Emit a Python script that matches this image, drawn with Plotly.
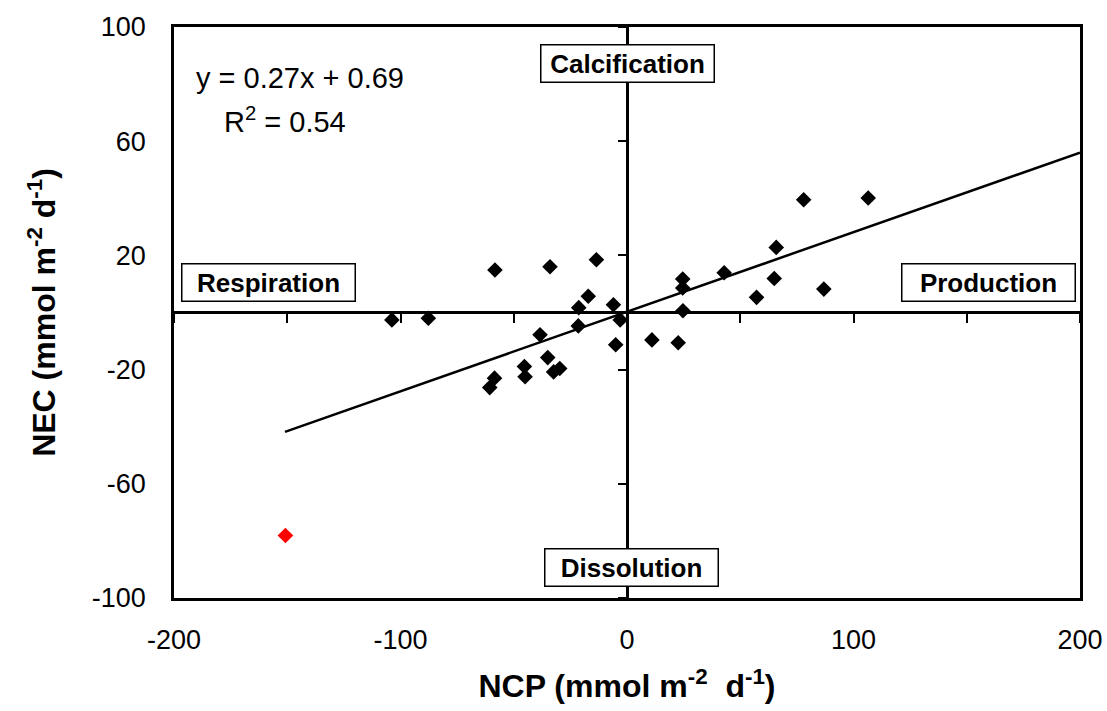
import plotly.graph_objects as go

# NCP (x) and NEC (y) observations (black diamonds)
ncp = [-103.8, -87.7, -58.3, -34.0, -13.5, -17.1, -21.3, -6.0, -3.0, -21.5,
       -38.4, -5.0, -35.0, -45.3, -45.0, -32.4, -29.7, -58.5, -60.6, 11.0,
       22.6, 24.7, 24.6, 24.6, 42.9, 57.2, 65.0, 65.9, 78.0, 86.9, 106.5]
nec = [-2.6, -2.0, 14.9, 16.0, 18.5, 5.7, 1.7, 2.7, -2.6, -4.7,
       -7.8, -11.3, -15.8, -18.9, -22.5, -20.8, -19.6, -23.0, -26.3, -9.6,
       -10.6, 0.6, 8.6, 11.7, 13.9, 5.3, 11.9, 22.8, 39.5, 8.2, 40.1]

# outlier (red diamond)
out_ncp = [-150.8]
out_nec = [-78.1]

# linear trendline endpoints
trend_x = [-151, 200]
trend_y = [-41.8, 56.0]

x_ticks = [-200, -100, 0, 100, 200]
x_ticktext = ["-200", "-100", "0", "100", "200"]
x_minor = [-200, -150, -100, -50, 0, 50, 100, 150, 200]
y_ticks = [-100, -60, -20, 20, 60, 100]
y_ticktext = ["-100", "-60", "-20", "20", "60", "100"]

eq_text = "y = 0.27x + 0.69"
r2_text = "R<sup>2</sup> = 0.54"

quadrants = [
    ("Calcification", 0, 87.3),
    ("Respiration", -158.4, 10.4),
    ("Production", 159.5, 10.4),
    ("Dissolution", 2.2, -89.2),
]

FONT = "Liberation Sans, Arial, sans-serif"

fig = go.Figure()
fig.add_trace(go.Scatter(x=trend_x, y=trend_y, mode="lines",
                         line=dict(color="black", width=2.5), showlegend=False,
                         hoverinfo="skip"))
fig.add_trace(go.Scatter(x=ncp, y=nec, mode="markers",
                         marker=dict(symbol="diamond", size=12, color="black"),
                         showlegend=False))
fig.add_trace(go.Scatter(x=out_ncp, y=out_nec, mode="markers",
                         marker=dict(symbol="diamond", size=12, color="#ff0000"),
                         showlegend=False))
# invisible trace to activate the overlay axes drawn through the origin
fig.add_trace(go.Scatter(x=[0], y=[0], xaxis="x2", yaxis="y2", mode="markers",
                         marker=dict(opacity=0), showlegend=False, hoverinfo="skip"))

fig.update_layout(
    width=1107, height=711,
    margin=dict(l=174, r=27, t=27, b=113),
    paper_bgcolor="white", plot_bgcolor="white",
    font=dict(family=FONT, color="black"),
    xaxis=dict(range=[-200, 200], tickvals=x_ticks, ticktext=x_ticktext, ticks="",
               showgrid=False, automargin=False,
               zeroline=True, zerolinecolor="black", zerolinewidth=2.5,
               showline=True, linecolor="black", linewidth=2.5, mirror=True,
               tickfont=dict(size=27, family=FONT), ticklabelstandoff=16,
               title=dict(text="<b>NCP (mmol m<sup>-2</sup>  d<sup>-1</sup>)</b>",
                          font=dict(size=32, family=FONT), standoff=21)),
    yaxis=dict(range=[-100, 100], tickvals=y_ticks, ticktext=y_ticktext, ticks="",
               showgrid=False, automargin=False,
               zeroline=True, zerolinecolor="black", zerolinewidth=2.5,
               showline=True, linecolor="black", linewidth=2.5, mirror=True,
               tickfont=dict(size=27, family=FONT), ticklabelstandoff=20,
               title=dict(text="<b>NEC (mmol m<sup>-2</sup> d<sup>-1</sup>)</b>",
                          font=dict(size=32, family=FONT), standoff=27)),
    xaxis2=dict(range=[-200, 200], overlaying="x", anchor="free", position=0.5,
                tickvals=x_minor, ticks="outside", ticklen=9, tickwidth=2,
                tickcolor="black", showticklabels=False, showgrid=False,
                zeroline=False, showline=False, automargin=False),
    yaxis2=dict(range=[-100, 100], overlaying="y", anchor="free", position=0.5,
                tickvals=y_ticks, ticks="outside", ticklen=9, tickwidth=2,
                tickcolor="black", showticklabels=False, showgrid=False,
                zeroline=False, showline=False, automargin=False),
)

for label, qx, qy in quadrants:
    fig.add_annotation(x=qx, y=qy, xref="x", yref="y", text=f"<b>{label}</b>",
                       showarrow=False, font=dict(size=26, family=FONT),
                       bgcolor="white", bordercolor="black", borderwidth=1.5,
                       borderpad=0, width=172, height=36)

fig.add_annotation(x=-191, y=82, xref="x", yref="y", text=eq_text, xanchor="left",
                   showarrow=False, font=dict(size=29, family=FONT))
fig.add_annotation(x=-179, y=67.5, xref="x", yref="y", text=r2_text, xanchor="left",
                   showarrow=False, font=dict(size=29, family=FONT))

fig.write_html("out.html")
